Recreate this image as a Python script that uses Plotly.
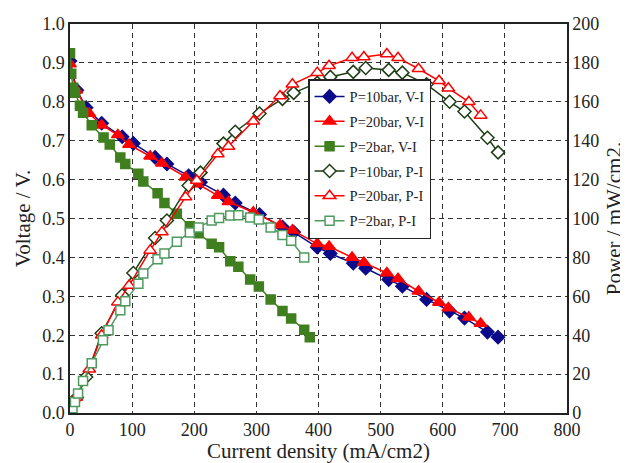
import plotly.graph_objects as go

# ---- data ----
I_10 = [0, 11, 26, 51, 84, 102, 137, 156, 191, 210, 247, 266, 305, 342, 360, 398, 419, 456, 476, 513, 535, 574, 611, 635, 672, 689]
V_10 = [0.905, 0.83, 0.785, 0.745, 0.71, 0.693, 0.657, 0.64, 0.61, 0.593, 0.56, 0.54, 0.51, 0.478, 0.465, 0.426, 0.41, 0.385, 0.372, 0.343, 0.326, 0.292, 0.262, 0.244, 0.208, 0.195]
P_10 = [0, 8, 18.5, 41, 60.5, 72, 90, 99, 117, 123.6, 138.5, 144.6, 154, 161.5, 164.6, 169.7, 172.8, 175.4, 177.4, 176.4, 175, 169, 160, 155, 141.5, 134]

I_20 = [0, 10, 31, 51, 77, 95, 129, 148, 186, 204, 238, 255, 295, 338, 358, 398, 417, 454, 473, 510, 528, 561, 594, 609, 642, 661]
V_20 = [0.897, 0.83, 0.77, 0.74, 0.715, 0.69, 0.66, 0.642, 0.606, 0.589, 0.559, 0.543, 0.516, 0.483, 0.47, 0.435, 0.428, 0.4, 0.387, 0.36, 0.345, 0.313, 0.284, 0.27, 0.246, 0.23]
P_20 = [0, 8, 22.5, 40, 57, 65.5, 83.6, 93, 111, 119.5, 133.2, 137, 150, 163, 169, 175, 178.5, 182.6, 183, 184.6, 182.6, 177, 170.8, 167, 160, 153]

I_2v = [0, 2, 5, 8, 16, 21, 35, 54, 64, 81, 89, 110, 118, 141, 152, 172, 193, 207, 228, 240, 258, 271, 290, 304, 323, 342, 356, 377, 386]
V_2 = [0.925, 0.872, 0.836, 0.823, 0.79, 0.772, 0.74, 0.708, 0.69, 0.657, 0.64, 0.615, 0.595, 0.565, 0.54, 0.512, 0.48, 0.462, 0.435, 0.426, 0.39, 0.376, 0.343, 0.325, 0.292, 0.262, 0.243, 0.214, 0.195]
I_2p = [0, 4, 8, 13, 21, 35, 53, 62, 81, 89, 110, 118, 141, 152, 172, 193, 207, 228, 240, 258, 271, 290, 304, 323, 342, 356, 377]
P_2 = [0, 2.5, 5.6, 10, 16.5, 25.6, 37.4, 42.6, 52.8, 57.5, 66.5, 71.7, 79, 82, 88, 92.8, 95.4, 99, 100.2, 101.5, 101.7, 100.5, 99.5, 95.4, 91.5, 88.5, 80]

x_ticks = [0, 100, 200, 300, 400, 500, 600, 700, 800]

BLUE = "#0a0a8a"
RED = "#ff0000"
GREEN = "#3f7f1f"
DKGREEN = "#1e3d14"
LTGREEN = "#4f9a5f"

fig = go.Figure()

def add(x, y, name, color, symbol, size, yaxis, group, hollow=False):
    fig.add_trace(go.Scatter(
        x=x, y=y, name=name, mode="lines+markers", yaxis=yaxis,
        legendgroup=group,
        line=dict(color=color, width=1.5),
        marker=dict(symbol=symbol, size=size,
                    color="white" if hollow else color,
                    line=dict(color=color, width=1.5)),
    ))

add(I_10, V_10, "P=10bar, V-I", BLUE, "diamond", 10, "y", "a")
add(I_20, V_20, "P=20bar, V-I", RED, "triangle-up", 11, "y", "b")
add(I_2v, V_2, "P=2bar, V-I", GREEN, "square", 9, "y", "c")
add(I_10, P_10, "P=10bar, P-I", DKGREEN, "diamond", 10, "y2", "d", hollow=True)
add(I_20, P_20, "P=20bar, P-I", RED, "triangle-up", 11, "y2", "e", hollow=True)
add(I_2p, P_2, "P=2bar, P-I", LTGREEN, "square", 9, "y2", "f", hollow=True)

FONT = "Liberation Serif"
fig.update_layout(
    width=620, height=455,
    margin=dict(l=62, r=61, t=16, b=50),
    paper_bgcolor="white", plot_bgcolor="white",
    font=dict(family=FONT, size=18, color="#222"),
    showlegend=True,
    legend=dict(x=0.479, y=0.8586, xanchor="left", yanchor="top",
                bgcolor="white", bordercolor="#222", borderwidth=1.5,
                font=dict(family=FONT, size=14.5, color="#222"),
                traceorder="grouped", tracegroupgap=3, itemwidth=30),
    xaxis=dict(range=[0, 800], tickvals=x_ticks, showgrid=True, automargin=False,
               gridcolor="#333", griddash="5px,4px", gridwidth=1,
               showline=True, linecolor="#222", linewidth=1.5, mirror=True,
               zeroline=False, ticks="",
               title=dict(text="Current density (mA/cm2)", font=dict(size=21), standoff=2)),
    yaxis=dict(range=[0, 1.0], dtick=0.1, tickformat=".1f", showgrid=True, automargin=False,
               gridcolor="#333", griddash="5px,4px", gridwidth=1,
               showline=True, linecolor="#222", linewidth=1.5,
               zeroline=False, ticks="",
               title=dict(text="Voltage / V.", font=dict(size=21), standoff=6)),
    yaxis2=dict(range=[0, 200], dtick=20, overlaying="y", side="right", automargin=False,
                showgrid=False, showline=True, linecolor="#222", linewidth=1.5,
                zeroline=False, ticks="",
                title=dict(text="Power / mW/cm2.", font=dict(size=21), standoff=8)),
)

fig.write_html("out.html")
